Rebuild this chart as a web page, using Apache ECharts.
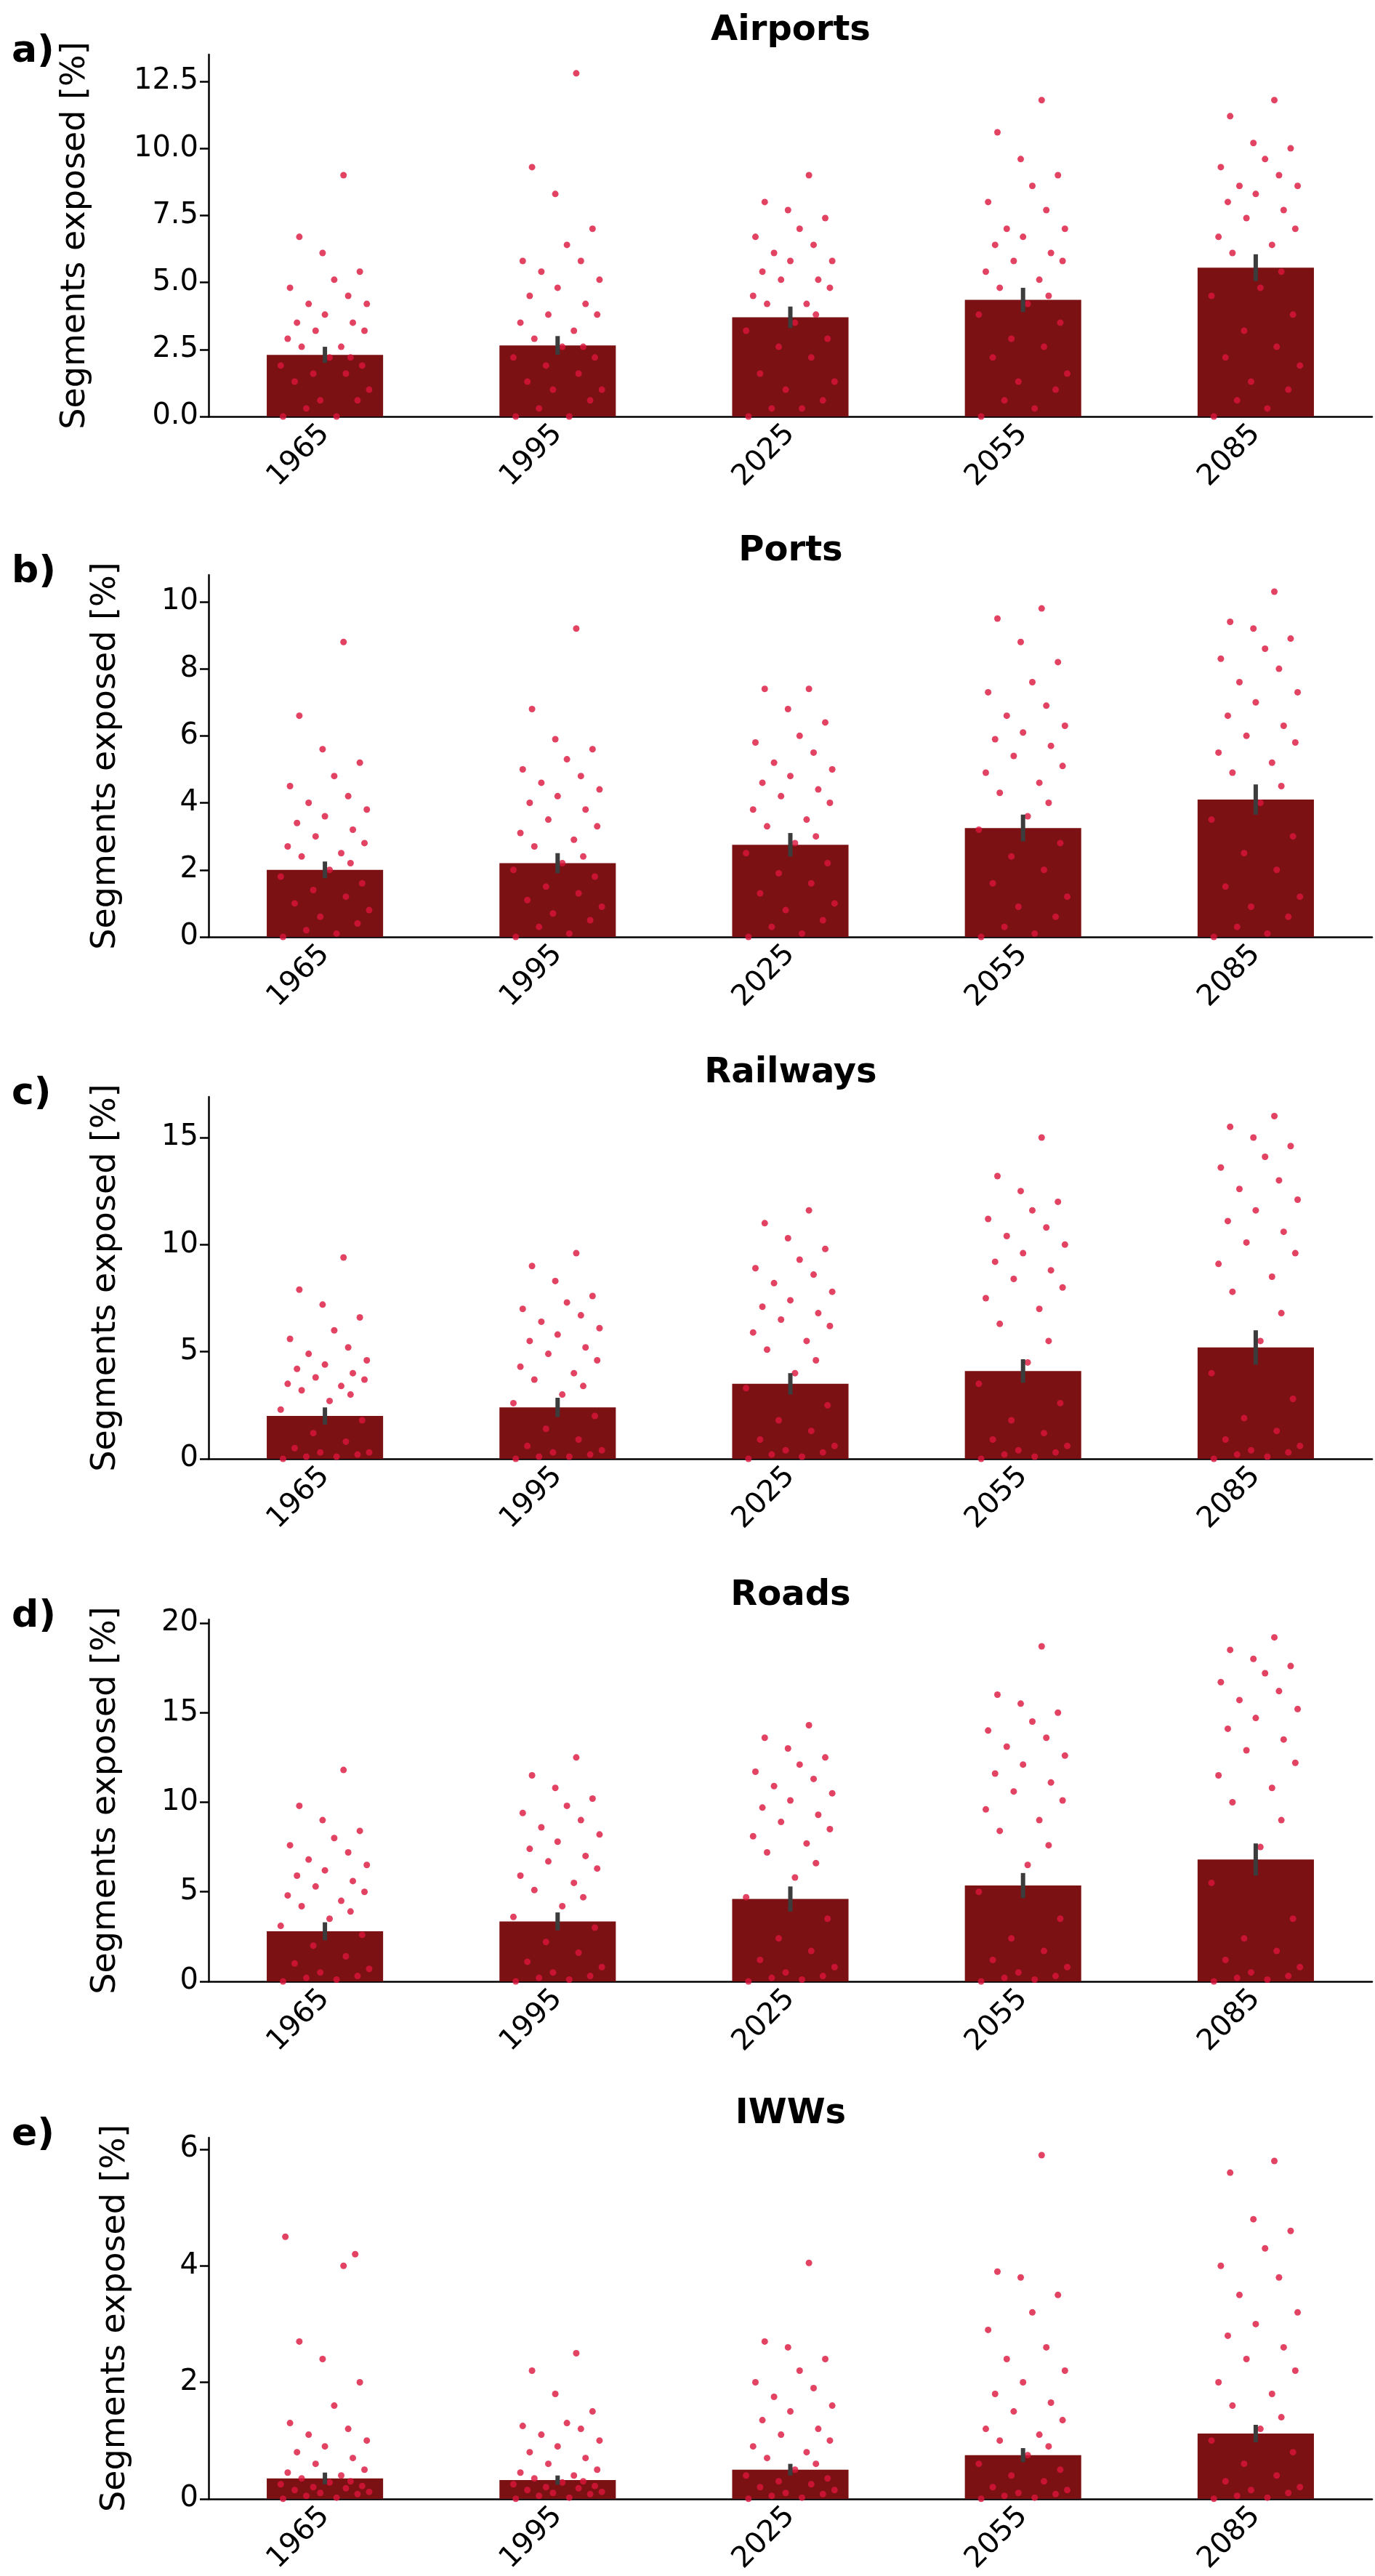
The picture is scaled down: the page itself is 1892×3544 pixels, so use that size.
<!DOCTYPE html>
<html><head><meta charset="utf-8">
<script src="https://cdn.jsdelivr.net/npm/echarts@6/dist/echarts.min.js"></script>
<style>html,body{margin:0;padding:0;background:#fff}#c{width:1892px;height:3544px}</style>
</head><body><div id="c"></div>
<script>
const categories = ['1965','1995','2025','2055','2085'];
const titles = ['Airports','Ports','Railways','Roads','IWWs'];
const letters = ['a)','b)','c)','d)','e)'];
const barValues = [
  [2.3,2.65,3.7,4.35,5.55],
  [2.0,2.2,2.75,3.25,4.1],
  [2.0,2.4,3.5,4.1,5.2],
  [2.8,3.35,4.6,5.35,6.8],
  [0.35,0.32,0.5,0.75,1.12]
];
const ciHalf = [
  [0.3,0.35,0.4,0.45,0.5],
  [0.25,0.3,0.35,0.4,0.45],
  [0.4,0.45,0.5,0.55,0.8],
  [0.5,0.5,0.7,0.7,0.9],
  [0.1,0.08,0.1,0.12,0.15]
];
const yMax = [13.5,10.8,16.9,20.2,6.2];
const yTicks = [[0,2.5,5,7.5,10,12.5],[0,2,4,6,8,10],[0,5,10,15],[0,5,10,15,20],[0,2,4,6]];
const yTickLabels = [['0.0','2.5','5.0','7.5','10.0','12.5'],['0','2','4','6','8','10'],['0','5','10','15'],['0','5','10','15','20'],['0','2','4','6']];
const jitter = [-0.18,0.05,-0.08,0.14,-0.02,0.19,-0.13,0.09,-0.05,0.16,-0.19,0.02,0.11,-0.1,0.07,-0.16,0.17,-0.04,0.12,-0.12,0.0,0.18,-0.07,0.1,-0.15,0.04,0.15,-0.01,-0.11,0.08,0.13,-0.17];
const airports = [
  [0,0,0.3,0.6,0.6,1.0,1.3,1.6,1.6,1.9,1.9,2.2,2.2,2.6,2.6,2.9,3.2,3.2,3.5,3.5,3.8,4.2,4.2,4.5,4.8,5.1,5.4,6.1,6.7,9.0],
  [0,0,0.3,0.6,1.0,1.0,1.3,1.6,1.9,2.2,2.2,2.6,2.6,2.9,3.2,3.5,3.8,3.8,4.2,4.5,4.8,5.1,5.4,5.8,5.8,6.4,7.0,8.3,9.3,12.8],
  [0,0.3,0.3,0.6,1.0,1.3,1.6,2.2,2.6,2.9,3.2,3.5,3.8,4.2,4.2,4.5,4.8,5.1,5.1,5.4,5.8,5.8,6.1,6.4,6.7,7.0,7.4,7.7,8.0,9.0],
  [0,0.3,0.6,1.0,1.3,1.6,2.2,2.6,2.9,3.5,3.8,4.2,4.5,4.8,5.1,5.4,5.8,5.8,6.1,6.4,6.7,7.0,7.0,7.7,8.0,8.6,9.0,9.6,10.6,11.8],
  [0,0.3,0.6,1.0,1.3,1.9,2.2,2.6,3.2,3.8,4.5,4.8,5.4,6.1,6.4,6.7,7.0,7.4,7.7,8.0,8.3,8.6,8.6,9.0,9.3,9.6,10.0,10.2,11.2,11.8]
];
const ports = [
  [0,0.1,0.2,0.4,0.6,0.8,1.0,1.2,1.4,1.6,1.8,2.0,2.2,2.4,2.5,2.7,2.8,3.0,3.2,3.4,3.6,3.8,4.0,4.2,4.5,4.8,5.2,5.6,6.6,8.8],
  [0,0.1,0.3,0.5,0.7,0.9,1.1,1.3,1.5,1.8,2.0,2.2,2.4,2.7,2.9,3.1,3.3,3.5,3.8,4.0,4.2,4.4,4.6,4.8,5.0,5.3,5.6,5.9,6.8,9.2],
  [0,0.1,0.3,0.5,0.8,1.0,1.3,1.6,1.9,2.2,2.5,2.8,3.0,3.3,3.5,3.8,4.0,4.2,4.4,4.6,4.8,5.0,5.2,5.5,5.8,6.0,6.4,6.8,7.4,7.4],
  [0,0.1,0.3,0.6,0.9,1.2,1.6,2.0,2.4,2.8,3.2,3.6,4.0,4.3,4.6,4.9,5.1,5.4,5.7,5.9,6.1,6.3,6.6,6.9,7.3,7.6,8.2,8.8,9.5,9.8],
  [0,0.1,0.3,0.6,0.9,1.2,1.5,2.0,2.5,3.0,3.5,4.0,4.5,4.9,5.2,5.5,5.8,6.0,6.3,6.6,7.0,7.3,7.6,8.0,8.3,8.6,8.9,9.2,9.4,10.3]
];
const railways = [
  [0,0.1,0.1,0.2,0.3,0.3,0.5,0.8,1.2,1.8,2.3,2.7,3.0,3.2,3.4,3.5,3.7,3.8,4.0,4.2,4.4,4.6,4.9,5.2,5.6,6.0,6.6,7.2,7.9,9.4],
  [0,0.1,0.1,0.2,0.3,0.4,0.6,0.9,1.4,2.0,2.6,3.0,3.4,3.7,4.0,4.3,4.6,4.9,5.2,5.5,5.8,6.1,6.4,6.7,7.0,7.3,7.6,8.3,9.0,9.6],
  [0,0.1,0.2,0.3,0.4,0.6,0.9,1.3,1.8,2.5,3.3,4.0,4.6,5.1,5.5,5.9,6.2,6.5,6.8,7.1,7.4,7.8,8.2,8.6,8.9,9.3,9.8,10.3,11.0,11.6],
  [0,0.1,0.2,0.3,0.4,0.6,0.9,1.2,1.8,2.6,3.5,4.5,5.5,6.3,7.0,7.5,8.0,8.4,8.8,9.2,9.6,10.0,10.4,10.8,11.2,11.6,12.0,12.5,13.2,15.0],
  [0,0.1,0.2,0.3,0.4,0.6,0.9,1.3,1.9,2.8,4.0,5.5,6.8,7.8,8.5,9.1,9.6,10.1,10.6,11.1,11.6,12.1,12.6,13.0,13.6,14.1,14.6,15.0,15.5,16.0]
];
const roads = [
  [0,0.1,0.2,0.3,0.5,0.7,1.0,1.4,2.0,2.6,3.1,3.5,3.9,4.2,4.5,4.8,5.0,5.3,5.6,5.9,6.2,6.5,6.8,7.2,7.6,8.0,8.4,9.0,9.8,11.8],
  [0,0.1,0.2,0.3,0.5,0.8,1.1,1.6,2.2,3.0,3.6,4.2,4.7,5.1,5.5,5.9,6.3,6.7,7.0,7.4,7.8,8.2,8.6,9.0,9.4,9.8,10.2,10.8,11.5,12.5],
  [0,0.1,0.2,0.3,0.5,0.8,1.2,1.7,2.4,3.5,4.7,5.8,6.6,7.2,7.7,8.1,8.5,8.9,9.3,9.7,10.1,10.5,10.9,11.3,11.7,12.1,12.5,13.0,13.6,14.3],
  [0,0.1,0.2,0.3,0.5,0.8,1.2,1.7,2.4,3.5,5.0,6.5,7.6,8.4,9.0,9.6,10.1,10.6,11.1,11.6,12.1,12.6,13.1,13.6,14.0,14.5,15.0,15.5,16.0,18.7],
  [0,0.1,0.2,0.3,0.5,0.8,1.2,1.7,2.4,3.5,5.5,7.5,9.0,10.0,10.8,11.5,12.2,12.9,13.5,14.1,14.7,15.2,15.7,16.2,16.7,17.2,17.6,18.0,18.5,19.2]
];
const iwws = [
  [0,0.02,0.05,0.08,0.1,0.12,0.15,0.18,0.2,0.22,0.25,0.28,0.3,0.35,0.4,0.45,0.5,0.6,0.7,0.8,0.9,1.0,1.1,1.2,1.3,1.6,2.0,2.4,2.7,4.0,4.2,4.5],
  [0,0.02,0.05,0.08,0.1,0.12,0.15,0.18,0.2,0.22,0.25,0.28,0.3,0.35,0.4,0.45,0.5,0.6,0.7,0.8,0.9,1.0,1.1,1.2,1.25,1.3,1.5,1.8,2.2,2.5],
  [0,0.02,0.05,0.08,0.1,0.15,0.2,0.25,0.3,0.35,0.4,0.5,0.6,0.7,0.8,0.9,1.0,1.1,1.2,1.35,1.5,1.6,1.75,1.9,2.0,2.2,2.4,2.6,2.7,4.05],
  [0,0.02,0.05,0.08,0.1,0.15,0.2,0.3,0.4,0.5,0.6,0.75,0.9,1.0,1.1,1.2,1.35,1.5,1.65,1.8,2.0,2.2,2.4,2.6,2.9,3.2,3.5,3.8,3.9,5.9],
  [0,0.02,0.05,0.1,0.15,0.2,0.3,0.4,0.6,0.8,1.0,1.2,1.4,1.6,1.8,2.0,2.2,2.4,2.6,2.8,3.0,3.2,3.5,3.8,4.0,4.3,4.6,4.8,5.6,5.8]
];
const points = [airports, ports, railways, roads, iwws];

const gridTops = [75,791,1509,2228,2941];
const gridH = 498;
const nameGaps = [160,118,118,118,105];
const font = 'DejaVu Sans';
const grid=[], xAxis=[], yAxis=[], series=[], graphic=[];
for (let p=0;p<5;p++){
  grid.push({left:287,width:1601,top:gridTops[p],height:gridH});
  xAxis.push({type:'category',gridIndex:p,data:categories,
    axisLine:{lineStyle:{color:'#000',width:2.5}},axisTick:{alignWithLabel:true,length:12,lineStyle:{color:'#000',width:2.5}},
    axisLabel:{rotate:45,fontSize:40,color:'#000',fontFamily:font,margin:18}});
  xAxis.push({type:'value',gridIndex:p,min:-0.5,max:4.5,show:false});
  yAxis.push({type:'value',gridIndex:p,min:0,max:yMax[p],
    name:'Segments exposed [%]',nameLocation:'middle',nameGap:nameGaps[p],
    nameTextStyle:{fontSize:46,color:'#000',fontFamily:font},
    splitLine:{show:false},
    axisLine:{show:true,onZero:false,lineStyle:{color:'#000',width:2.5}},
    axisTick:{show:true,length:12,lineStyle:{color:'#000',width:2.5},customValues:yTicks[p]},
    axisLabel:{fontSize:40,color:'#000',fontFamily:font,margin:14,customValues:yTicks[p],
      formatter:v=>{const i=yTicks[p].indexOf(v);return i>=0?yTickLabels[p][i]:'';}}});
  series.push({type:'bar',xAxisIndex:2*p,yAxisIndex:p,data:barValues[p],barWidth:'50%',
    itemStyle:{color:'#7b1113'},z:1,silent:true});
  const pts=[];
  points[p].forEach((grp,c)=>grp.forEach((v,k)=>pts.push([c+jitter[k%jitter.length],v])));
  series.push({type:'scatter',xAxisIndex:2*p+1,yAxisIndex:p,data:pts,symbolSize:9,
    itemStyle:{color:'#dc143c'},z:2,silent:true});
  series.push({type:'custom',xAxisIndex:2*p,yAxisIndex:p,z:3,silent:true,
    data:barValues[p].map((v,i)=>[i,v-ciHalf[p][i],v+ciHalf[p][i]]),
    renderItem:(params,api)=>{
      const a=api.coord([api.value(0),api.value(1)]);
      const b=api.coord([api.value(0),api.value(2)]);
      return {type:'line',shape:{x1:a[0],y1:a[1],x2:b[0],y2:b[1]},style:{stroke:'#3c3c3c',lineWidth:6}};
    },encode:{x:0,y:[1,2]}});
  graphic.push({type:'text',x:1088,y:gridTops[p]-32,style:{text:titles[p],fontSize:48,fontWeight:'bold',fill:'#000',fontFamily:font,align:'center',verticalAlign:'middle'}});
  graphic.push({type:'text',left:16,top:gridTops[p]-30,style:{text:letters[p],fontSize:52,fontWeight:'bold',fill:'#000',fontFamily:font}});
}
const chart=echarts.init(document.getElementById('c'),null,{renderer:'canvas'});
chart.setOption({animation:false,backgroundColor:'#fff',grid,xAxis,yAxis,series,graphic});
</script></body></html>
